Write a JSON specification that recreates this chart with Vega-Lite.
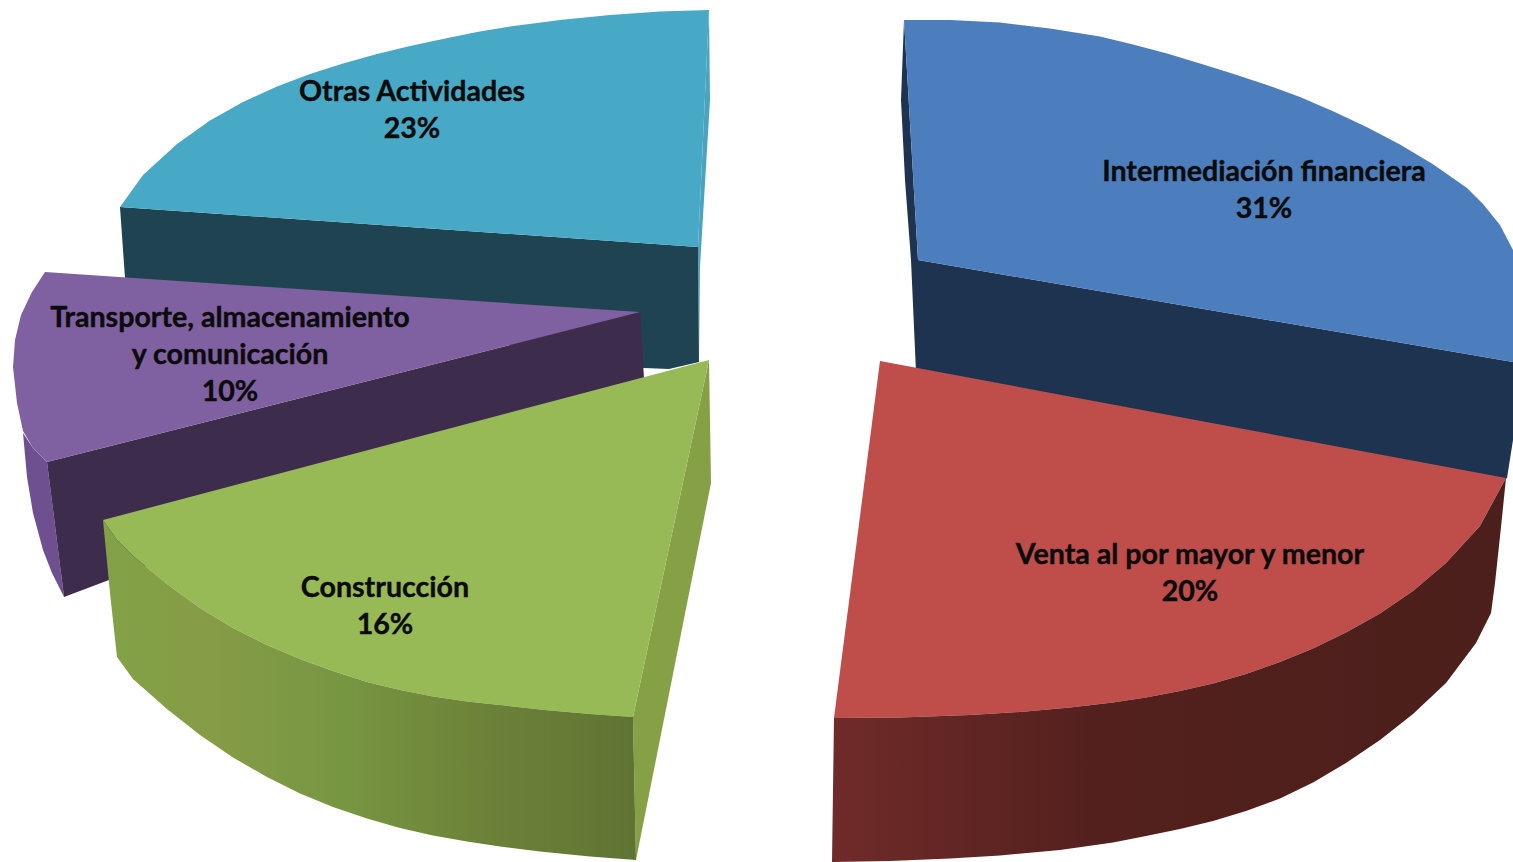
{"$schema":"https://vega.github.io/schema/vega-lite/v6.json","width":1513,"height":862,"padding":0,"autosize":{"type":"fit","contains":"padding"},"background":"white","view":{"stroke":null},
"datasets":{"outlines":[
{"part":"teal_wall","i":0,"x":709,"y":10},{"part":"teal_wall","i":1,"x":710,"y":100},{"part":"teal_wall","i":2,"x":705,"y":183},{"part":"teal_wall","i":3,"x":700,"y":267},{"part":"teal_wall","i":4,"x":699,"y":362},{"part":"teal_wall","i":5,"x":698,"y":247},
{"part":"teal_front","i":0,"x":120,"y":207},{"part":"teal_front","i":1,"x":698,"y":247},{"part":"teal_front","i":2,"x":699,"y":362},{"part":"teal_front","i":3,"x":669,"y":369},{"part":"teal_front","i":4,"x":644,"y":368},{"part":"teal_front","i":5,"x":125,"y":278},
{"part":"teal_top","i":0,"x":709,"y":10},{"part":"teal_top","i":1,"x":660,"y":11.5},{"part":"teal_top","i":2,"x":610,"y":15},{"part":"teal_top","i":3,"x":560,"y":20},{"part":"teal_top","i":4,"x":510,"y":26.5},{"part":"teal_top","i":5,"x":477,"y":32},{"part":"teal_top","i":6,"x":443,"y":39},{"part":"teal_top","i":7,"x":410,"y":46},{"part":"teal_top","i":8,"x":377,"y":54},{"part":"teal_top","i":9,"x":343,"y":63.5},{"part":"teal_top","i":10,"x":310,"y":74},{"part":"teal_top","i":11,"x":277,"y":86.5},{"part":"teal_top","i":12,"x":243,"y":102},{"part":"teal_top","i":13,"x":210,"y":120.5},{"part":"teal_top","i":14,"x":177,"y":144},{"part":"teal_top","i":15,"x":143,"y":175},{"part":"teal_top","i":16,"x":120,"y":207},{"part":"teal_top","i":17,"x":698,"y":247},
{"part":"purple_wall","i":0,"x":23,"y":433},{"part":"purple_wall","i":1,"x":33,"y":448},{"part":"purple_wall","i":2,"x":47,"y":462},{"part":"purple_wall","i":3,"x":64,"y":597},{"part":"purple_wall","i":4,"x":52,"y":573},{"part":"purple_wall","i":5,"x":43,"y":550},{"part":"purple_wall","i":6,"x":33,"y":513},{"part":"purple_wall","i":7,"x":27,"y":477},
{"part":"purple_front","i":0,"x":47,"y":462},{"part":"purple_front","i":1,"x":640,"y":312},{"part":"purple_front","i":2,"x":644,"y":378},{"part":"purple_front","i":3,"x":64,"y":597},
{"part":"purple_top","i":0,"x":45,"y":272},{"part":"purple_top","i":1,"x":640,"y":312},{"part":"purple_top","i":2,"x":47,"y":462},{"part":"purple_top","i":3,"x":33,"y":448},{"part":"purple_top","i":4,"x":23,"y":431},{"part":"purple_top","i":5,"x":17,"y":403},{"part":"purple_top","i":6,"x":13,"y":367},{"part":"purple_top","i":7,"x":15,"y":340},{"part":"purple_top","i":8,"x":21,"y":315},{"part":"purple_top","i":9,"x":32,"y":292},
{"part":"blue_front","i":0,"x":904,"y":20},{"part":"blue_front","i":1,"x":901,"y":100},{"part":"blue_front","i":2,"x":905,"y":180},{"part":"blue_front","i":3,"x":911,"y":260},{"part":"blue_front","i":4,"x":916,"y":372},{"part":"blue_front","i":5,"x":1490,"y":490},{"part":"blue_front","i":6,"x":1507,"y":478},{"part":"blue_front","i":7,"x":1513,"y":440},{"part":"blue_front","i":8,"x":1513,"y":362},{"part":"blue_front","i":9,"x":918,"y":260},
{"part":"blue_top","i":0,"x":904,"y":20},{"part":"blue_top","i":1,"x":950,"y":20},{"part":"blue_top","i":2,"x":1000,"y":22.5},{"part":"blue_top","i":3,"x":1050,"y":28.5},{"part":"blue_top","i":4,"x":1100,"y":36.5},{"part":"blue_top","i":5,"x":1133,"y":44.4},{"part":"blue_top","i":6,"x":1167,"y":53.6},{"part":"blue_top","i":7,"x":1200,"y":63.5},{"part":"blue_top","i":8,"x":1233,"y":73.7},{"part":"blue_top","i":9,"x":1267,"y":84.9},{"part":"blue_top","i":10,"x":1300,"y":97.1},{"part":"blue_top","i":11,"x":1333,"y":111.3},{"part":"blue_top","i":12,"x":1367,"y":127.3},{"part":"blue_top","i":13,"x":1400,"y":144.5},{"part":"blue_top","i":14,"x":1433,"y":164.3},{"part":"blue_top","i":15,"x":1467,"y":188.1},{"part":"blue_top","i":16,"x":1483,"y":204},{"part":"blue_top","i":17,"x":1500,"y":225},{"part":"blue_top","i":18,"x":1513,"y":250},{"part":"blue_top","i":19,"x":1513,"y":362},{"part":"blue_top","i":20,"x":918,"y":260},
{"part":"green_side","i":0,"x":709,"y":360},{"part":"green_side","i":1,"x":711,"y":483},{"part":"green_side","i":2,"x":636,"y":860},{"part":"green_side","i":3,"x":633,"y":717},
{"part":"green_top","i":0,"x":103,"y":520},{"part":"green_top","i":1,"x":709,"y":360},{"part":"green_top","i":2,"x":633,"y":717},{"part":"green_top","i":3,"x":590,"y":714},{"part":"green_top","i":4,"x":545,"y":710},{"part":"green_top","i":5,"x":500,"y":705},{"part":"green_top","i":6,"x":467,"y":701.5},{"part":"green_top","i":7,"x":433,"y":696.5},{"part":"green_top","i":8,"x":400,"y":690},{"part":"green_top","i":9,"x":367,"y":682},{"part":"green_top","i":10,"x":333,"y":671},{"part":"green_top","i":11,"x":300,"y":659},{"part":"green_top","i":12,"x":267,"y":645},{"part":"green_top","i":13,"x":233,"y":628},{"part":"green_top","i":14,"x":200,"y":608},{"part":"green_top","i":15,"x":167,"y":584},{"part":"green_top","i":16,"x":133,"y":556},{"part":"green_top","i":17,"x":117,"y":540},
{"part":"red_top","i":0,"x":880,"y":361},{"part":"red_top","i":1,"x":1506,"y":478},{"part":"red_top","i":2,"x":1480,"y":526},{"part":"red_top","i":3,"x":1446,"y":563},{"part":"red_top","i":4,"x":1413,"y":591},{"part":"red_top","i":5,"x":1380,"y":613.5},{"part":"red_top","i":6,"x":1346,"y":632.5},{"part":"red_top","i":7,"x":1313,"y":648.5},{"part":"red_top","i":8,"x":1280,"y":662},{"part":"red_top","i":9,"x":1246,"y":674},{"part":"red_top","i":10,"x":1213,"y":683.5},{"part":"red_top","i":11,"x":1180,"y":691},{"part":"red_top","i":12,"x":1146,"y":697.5},{"part":"red_top","i":13,"x":1113,"y":702.5},{"part":"red_top","i":14,"x":1070,"y":707.5},{"part":"red_top","i":15,"x":1020,"y":712},{"part":"red_top","i":16,"x":970,"y":715},{"part":"red_top","i":17,"x":900,"y":717.5},{"part":"red_top","i":18,"x":834,"y":718}
],
"greenWall":[
{"i":0,"x":103,"y":520},{"i":1,"x":117,"y":540},{"i":2,"x":133,"y":556},{"i":3,"x":167,"y":584},{"i":4,"x":200,"y":608},{"i":5,"x":233,"y":628},{"i":6,"x":267,"y":645},{"i":7,"x":300,"y":659},{"i":8,"x":333,"y":671},{"i":9,"x":367,"y":682},{"i":10,"x":400,"y":690},{"i":11,"x":433,"y":696.5},{"i":12,"x":467,"y":701.5},{"i":13,"x":500,"y":705},{"i":14,"x":545,"y":710},{"i":15,"x":590,"y":714},{"i":16,"x":633,"y":717},{"i":17,"x":636,"y":860},{"i":18,"x":590,"y":856.5},{"i":19,"x":540,"y":851.5},{"i":20,"x":500,"y":846.5},{"i":21,"x":467,"y":841.5},{"i":22,"x":433,"y":835.5},{"i":23,"x":400,"y":828},{"i":24,"x":367,"y":818.5},{"i":25,"x":333,"y":807},{"i":26,"x":300,"y":793.5},{"i":27,"x":267,"y":777},{"i":28,"x":233,"y":757.5},{"i":29,"x":200,"y":735},{"i":30,"x":167,"y":709},{"i":31,"x":133,"y":679},{"i":32,"x":117,"y":657},{"i":33,"x":110,"y":593}],
"redWall":[
{"i":0,"x":834,"y":718},{"i":1,"x":900,"y":717.5},{"i":2,"x":970,"y":715},{"i":3,"x":1020,"y":712},{"i":4,"x":1070,"y":707.5},{"i":5,"x":1113,"y":702.5},{"i":6,"x":1146,"y":697.5},{"i":7,"x":1180,"y":691},{"i":8,"x":1213,"y":683.5},{"i":9,"x":1246,"y":674},{"i":10,"x":1280,"y":662},{"i":11,"x":1313,"y":648.5},{"i":12,"x":1346,"y":632.5},{"i":13,"x":1380,"y":613.5},{"i":14,"x":1413,"y":591},{"i":15,"x":1446,"y":563},{"i":16,"x":1480,"y":526},{"i":17,"x":1506,"y":478},{"i":18,"x":1501,"y":527},{"i":19,"x":1495,"y":583},{"i":20,"x":1491,"y":613},{"i":21,"x":1476,"y":643},{"i":22,"x":1446,"y":683},{"i":23,"x":1413,"y":714},{"i":24,"x":1380,"y":740},{"i":25,"x":1346,"y":763},{"i":26,"x":1313,"y":782.5},{"i":27,"x":1280,"y":798.5},{"i":28,"x":1246,"y":811},{"i":29,"x":1213,"y":821},{"i":30,"x":1180,"y":829},{"i":31,"x":1146,"y":836},{"i":32,"x":1113,"y":842.5},{"i":33,"x":1060,"y":850},{"i":34,"x":1000,"y":855.5},{"i":35,"x":950,"y":858.5},{"i":36,"x":890,"y":861},{"i":37,"x":832,"y":862}],
"labels":[
{"sector":"Intermediación financiera\n31%","x":1264,"y":172},
{"sector":"Venta al por mayor y menor\n20%","x":1190,"y":555},
{"sector":"Construcción\n16%","x":385,"y":588},
{"sector":"Transporte, almacenamiento\ny comunicación\n10%","x":230,"y":318},
{"sector":"Otras Actividades\n23%","x":412,"y":92}]},
"encoding":{"x":{"field":"x","type":"quantitative","scale":{"domain":[0,1513]},"axis":null},"y":{"field":"y","type":"quantitative","scale":{"domain":[0,862],"reverse":true},"axis":null}},
"layer":[
{"data":{"name":"outlines"},"mark":{"type":"line","filled":true,"strokeWidth":0,"clip":true},"encoding":{"order":{"field":"i","type":"quantitative"},"fill":{"field":"part","type":"nominal","legend":null,"sort":null,"scale":{"domain":["teal_wall","teal_front","teal_top","purple_wall","purple_front","purple_top","blue_front","blue_top","green_side","green_top","red_top"],"range":["#4BA3BF","#1F4350","#47A9C6","#6E5090","#3D2C4B","#7F60A0","#1D334F","#4C7EBD","#86A046","#98BA56","#BF4E4B"]}}}},
{"data":{"name":"greenWall"},"mark":{"type":"line","filled":true,"strokeWidth":0,"clip":true,"fill":{"gradient":"linear","x1":0,"y1":0,"x2":1,"y2":0,"stops":[{"offset":0,"color":"#82A246"},{"offset":0.2,"color":"#869C46"},{"offset":0.45,"color":"#779642"},{"offset":0.7,"color":"#6D8339"},{"offset":1,"color":"#5F7433"}]}},"encoding":{"order":{"field":"i","type":"quantitative"}}},
{"data":{"name":"redWall"},"mark":{"type":"line","filled":true,"strokeWidth":0,"clip":true,"fill":{"gradient":"linear","x1":0,"y1":0,"x2":1,"y2":0,"stops":[{"offset":0,"color":"#6F2B29"},{"offset":0.4,"color":"#53201D"},{"offset":1,"color":"#4B1F1B"}]}},"encoding":{"order":{"field":"i","type":"quantitative"}}},
{"data":{"name":"labels"},"mark":{"type":"text","font":"Lato","fontWeight":"bold","fontSize":28.6,"lineHeight":37,"lineBreak":"\n","align":"center","baseline":"middle","color":"#0B0B0B","stroke":"#0B0B0B","strokeWidth":0.4},"encoding":{"text":{"field":"sector","type":"nominal"}}}
]}
